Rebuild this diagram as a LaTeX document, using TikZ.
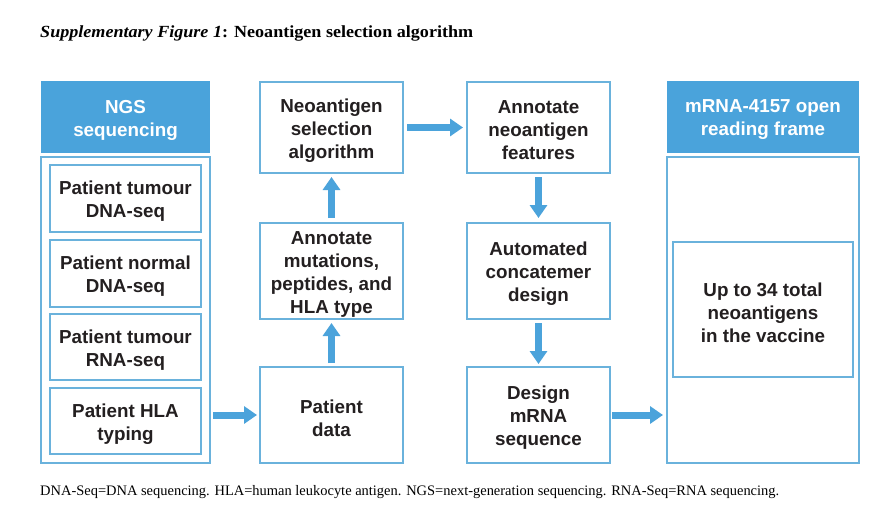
\documentclass[tikz,border=0pt]{standalone}
\usepackage{fontspec}
\usepackage{graphicx}
\setmainfont{Liberation Serif}
\newfontfamily\boxfont{Liberation Sans}
\usetikzlibrary{arrows.meta}
\definecolor{hdrblue}{HTML}{4AA3DB}
\definecolor{brdblue}{HTML}{6AB2DC}
\definecolor{arrblue}{HTML}{4BA3DB}
\definecolor{txt}{HTML}{231F20}
\tikzset{
  box/.style={draw=brdblue, line width=1.3pt, fill=white, inner sep=0pt, outer sep=0pt},
  hdr/.style={fill=hdrblue, inner sep=0pt, outer sep=0pt},
  lbl/.style={inner sep=0pt, align=center, text=txt, yshift=-3pt,
    font=\boxfont\bfseries\fontsize{18.8}{23}\selectfont},
  hlbl/.style={lbl, text=white},
  frame/.style={draw=brdblue, line width=1.3pt, inner sep=0pt, outer sep=0pt},
  arr/.style={draw=arrblue, line width=7pt, -{Triangle[width=17pt,length=13pt]}}
}
\begin{document}
\begin{tikzpicture}[x=1pt,y=-1pt]
\useasboundingbox (0,0) rectangle (872,507);
\fill[white] (0,0) rectangle (872,507);
% title
\node[anchor=base west, inner sep=0pt] (title) at (40,37)
  {\resizebox{433pt}{\height}{\fontsize{17}{20}\selectfont\textbf{\textit{Supplementary Figure 1}: Neoantigen selection algorithm}}};
% left column
\node[hdr, minimum width=169pt, minimum height=72pt] (ngs) at (125.5,117) {};
\node[hlbl] (ngsT) at (ngs.center) {NGS\\sequencing};
\node[frame, minimum width=169pt, minimum height=306pt] (ngsframe) at (125.5,310) {};
\node[box, minimum width=151pt, minimum height=67pt] (tdna) at (125.5,198.5) {};
\node[lbl] (tdnaT) at (tdna.center) {Patient tumour\\DNA-seq};
\node[box, minimum width=151pt, minimum height=67pt] (ndna) at (125.5,273.5) {};
\node[lbl] (ndnaT) at (ndna.center) {Patient normal\\DNA-seq};
\node[box, minimum width=151pt, minimum height=66pt] (trna) at (125.5,347) {};
\node[lbl] (trnaT) at (trna.center) {Patient tumour\\RNA-seq};
\node[box, minimum width=151pt, minimum height=66pt] (hla) at (125.5,421) {};
\node[lbl] (hlaT) at (hla.center) {Patient HLA\\typing};
% middle column
\node[box, minimum width=143pt, minimum height=91pt] (algo) at (331.5,127.5) {};
\node[lbl] (algoT) at (algo.center) {Neoantigen\\selection\\algorithm};
\node[box, minimum width=143pt, minimum height=96pt] (annot) at (331.5,271) {};
\node[lbl] (annotT) at (annot.center) {Annotate\\mutations,\\peptides, and\\HLA type};
\node[box, minimum width=143pt, minimum height=96pt] (pdata) at (331.5,415) {};
\node[lbl] (pdataT) at (pdata.center) {Patient\\data};
% right-middle column
\node[box, minimum width=143pt, minimum height=91pt] (feat) at (538.5,127.5) {};
\node[lbl] (featT) at (feat.center) {Annotate\\neoantigen\\features};
\node[box, minimum width=143pt, minimum height=96pt] (conc) at (538.5,271) {};
\node[lbl] (concT) at (conc.center) {Automated\\concatemer\\design};
\node[box, minimum width=143pt, minimum height=96pt] (mrna) at (538.5,415) {};
\node[lbl] (mrnaT) at (mrna.center) {Design\\mRNA\\sequence};
% right column
\node[hdr, minimum width=192pt, minimum height=72pt] (orf) at (763,117) {};
\node[hlbl] (orfT) at (orf.center) {mRNA-4157 open\\reading frame};
\node[frame, minimum width=192pt, minimum height=306pt] (orfframe) at (763,310) {};
\node[box, minimum width=180pt, minimum height=135pt] (vacc) at (763,309.5) {};
\node[lbl] (vaccT) at (vacc.center) {Up to 34 total\\neoantigens\\in the vaccine};
% arrows
\draw[arr, shorten <=3pt, shorten >=3pt] (ngsframe.east |- pdata.west) -- (pdata.west);
\draw[arr, shorten <=4pt, shorten >=4pt] (pdata.north) -- (annot.south);
\draw[arr, shorten <=5pt, shorten >=4pt] (annot.north) -- (algo.south);
\draw[arr, shorten <=4pt, shorten >=4pt] (algo.east) -- (feat.west);
\draw[arr, shorten <=4pt, shorten >=5pt] (feat.south) -- (conc.north);
\draw[arr, shorten <=4pt, shorten >=3pt] (conc.south) -- (mrna.north);
\draw[arr, shorten <=2pt, shorten >=4pt] (mrna.east) -- (orfframe.west |- mrna.east);
% footnote
\node[anchor=base west, inner sep=0pt] (note) at (40,495)
  {\resizebox{739pt}{\height}{\fontsize{14.5}{17}\selectfont DNA-Seq=DNA sequencing. HLA=human leukocyte antigen. NGS=next-generation sequencing. RNA-Seq=RNA sequencing.}};
\end{tikzpicture}
\end{document}
